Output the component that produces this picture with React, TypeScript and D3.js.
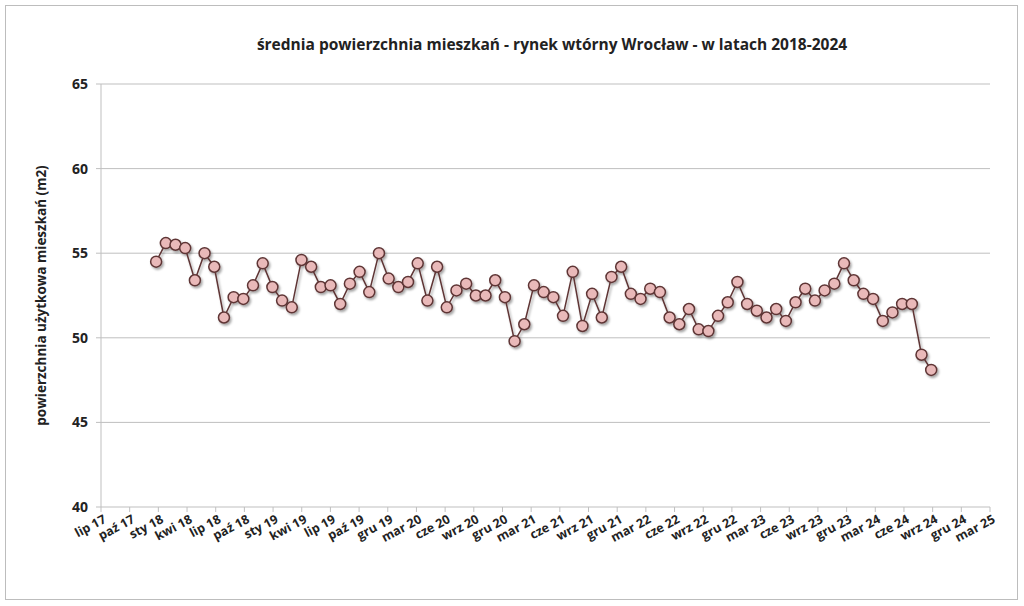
import React from "react";
import * as d3 from "d3";

const tickLabels = ["lip 17","paź 17","sty 18","kwi 18","lip 18","paź 18","sty 19","kwi 19","lip 19","paź 19","gru 19","mar 20","cze 20","wrz 20","gru 20","mar 21","cze 21","wrz 21","gru 21","mar 22","cze 22","wrz 22","gru 22","mar 23","cze 23","wrz 23","gru 23","mar 24","cze 24","wrz 24","gru 24","mar 25"];
const values = [54.5,55.6,55.5,55.3,53.4,55.0,54.2,51.2,52.4,52.3,53.1,54.4,53.0,52.2,51.8,54.6,54.2,53.0,53.1,52.0,53.2,53.9,52.7,55.0,53.5,53.0,53.3,54.4,52.2,54.2,51.8,52.8,53.2,52.5,52.5,53.4,52.4,49.8,50.8,53.1,52.7,52.4,51.3,53.9,50.7,52.6,51.2,53.6,54.2,52.6,52.3,52.9,52.7,51.2,50.8,51.7,50.5,50.4,51.3,52.1,53.3,52.0,51.6,51.2,51.7,51.0,52.1,52.9,52.2,52.8,53.2,54.4,53.4,52.6,52.3,51.0,51.5,52.0,52.0,49.0,48.1];
const yTicks = [40,45,50,55,60,65];

export default function App() {
  const W = 1024, H = 606;
  const left = 101, right = 990, top = 84, bottom = 507;
  const xTick = d3.scaleLinear().domain([0, tickLabels.length - 1]).range([left, right]);
  const monthsPerTick = 2.96;
  const xMonth = (m: number) => xTick(m / monthsPerTick);
  const y = d3.scaleLinear().domain([40, 65]).range([bottom, top]);
  const pts = values.map((v, i) => [xMonth(6 + i) - 3, y(v)] as [number, number]);
  const line = d3.line()(pts) || "";
  const font = "Open Sans, Liberation Sans, sans-serif";
  return (
    <svg width={W} height={H} style={{ position: "fixed", left: 0, top: 0, background: "#fff" }} fontFamily={font}>
      <defs>
        <filter id="sh" x="-50%" y="-50%" width="200%" height="200%">
          <feDropShadow dx="1.5" dy="2" stdDeviation="1.2" floodColor="#000" floodOpacity="0.35" />
        </filter>
      </defs>
      <rect x={5.5} y={5.5} width={1012} height={594} fill="#fff" stroke="#bdbdbd" />
      <text x={552} y={50} textAnchor="middle" fontSize={15.5} fontWeight="bold" fill="#222">średnia powierzchnia mieszkań - rynek wtórny Wrocław - w latach 2018-2024</text>
      {yTicks.map(t => (
        <g key={t}>
          <line x1={left - 5} x2={right} y1={y(t)} y2={y(t)} stroke="#bfbfbf" />
          <text x={88} y={y(t) + 5} textAnchor="end" fontSize={14} fontWeight="bold" fill="#222">{t}</text>
        </g>
      ))}
      <line x1={left} x2={left} y1={top} y2={bottom} stroke="#bfbfbf" />
      {tickLabels.map((l, i) => (
        <g key={l}>
          <line x1={xTick(i)} x2={xTick(i)} y1={bottom} y2={bottom + 5} stroke="#bfbfbf" />
          <text transform={`translate(${xTick(i) + 6},${bottom + 15}) rotate(-28)`} textAnchor="end" fontSize={12.5} fontWeight="bold" fill="#222">{l}</text>
        </g>
      ))}
      <text transform={`translate(46,${(top + bottom) / 2}) rotate(-90)`} textAnchor="middle" fontSize={13.5} fontWeight="bold" fill="#222">powierzchnia użytkowa mieszkań  (m2)</text>
      <g filter="url(#sh)">
        <path d={line} fill="none" stroke="#5e3535" strokeWidth={1.5} />
        {pts.map((p, i) => (
          <circle key={i} cx={p[0]} cy={p[1]} r={5.5} fill="#e9b9b9" stroke="#5e3535" strokeWidth={1.5} />
        ))}
      </g>
    </svg>
  );
}
